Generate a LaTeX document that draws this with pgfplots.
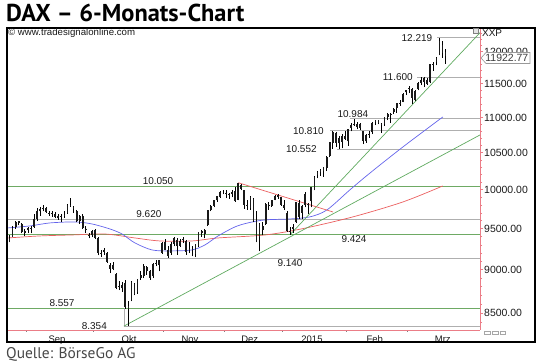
\documentclass[border=0pt]{standalone}
\usepackage{pgfplots}
\usepackage{pgfplotstable}
\pgfplotsset{compat=1.18}
\usepackage{fontspec}
\setmainfont{Liberation Sans}
\newfontfamily\titlefont{PT Sans}
\definecolor{lvlgreen}{RGB}{110,170,100}
\definecolor{lvlgrey}{RGB}{175,175,175}
\definecolor{trendgreen}{RGB}{95,170,95}
\definecolor{mablue}{RGB}{100,100,235}
\definecolor{mared}{RGB}{235,95,95}
\definecolor{axpink}{RGB}{235,125,135}
\definecolor{txt}{RGB}{25,25,25}
\tikzset{
  wick/.style={black, line width=0.55bp},
  body/.style={black!90, line width=1.8bp},
  lvl/.style={font=\fontsize{10}{11}\selectfont, text=txt, inner sep=1pt},
}

\pgfplotstableread{
i o h l c
0 9380 9420 9330 9339
1 9400 9530 9390 9510
2 9520 9600 9500 9588
3 9590 9600 9540 9569
4 9560 9570 9440 9462
5 9450 9500 9410 9470
6 9480 9520 9450 9507
7 9510 9530 9440 9507
8 9520 9680 9510 9626
9 9620 9760 9600 9724
10 9720 9780 9660 9747
11 9760 9800 9720 9758
12 9760 9780 9700 9710
13 9690 9720 9660 9700
14 9700 9720 9650 9691
15 9690 9710 9630 9651
16 9640 9680 9610 9659
17 9650 9680 9580 9661
18 9670 9720 9640 9661
19 9700 9810 9690 9798
20 9800 9891 9780 9799
21 9780 9790 9700 9750
22 9720 9730 9580 9595
23 9590 9670 9560 9661
24 9660 9680 9500 9510
25 9500 9530 9450 9490
26 9420 9450 9380 9423
27 9420 9480 9390 9474
28 9480 9490 9370 9382
29 9380 9390 9170 9195
30 9190 9240 9150 9195
31 9230 9260 9180 9209
32 9200 9210 9080 9086
33 9060 9080 8960 9005
34 9060 9090 8990 9005
35 8950 8960 8770 8788
36 8800 8870 8760 8812
37 8780 8850 8740 8825
38 8840 8880 8550 8571
39 8540 8640 8355 8582
40 8650 8870 8630 8850
41 8830 8840 8700 8717
42 8740 8890 8720 8886
43 8900 8980 8880 8940
44 8930 9070 8900 9047
45 9030 9040 8940 8988
46 8980 9000 8880 8902
47 8920 9080 8900 9068
48 9080 9110 9040 9083
49 9060 9120 8980 9114
50 9200 9340 9190 9326
51 9330 9370 9230 9235
52 9230 9280 9140 9166
53 9200 9340 9180 9315
54 9310 9400 9280 9378
55 9360 9380 9180 9291
56 9290 9370 9270 9351
57 9360 9400 9320 9369
58 9350 9360 9180 9210
59 9240 9330 9200 9249
60 9250 9290 9160 9252
61 9190 9310 9150 9306
62 9290 9460 9270 9456
63 9450 9480 9400 9472
64 9430 9500 9380 9484
65 9540 9740 9530 9732
66 9740 9800 9720 9785
67 9790 9870 9770 9861
68 9860 9920 9840 9915
69 9910 9980 9890 9974
70 9980 10000 9940 9980
71 9960 9990 9890 9963
72 9940 9960 9880 9934
73 9950 10000 9900 9971
74 9980 10030 9840 9851
75 9870 10093 9860 10087
76 10060 10080 9990 10014
77 9990 10000 9750 9799
78 9800 9870 9740 9799
79 9760 9920 9740 9903
80 9880 9890 9580 9594
81 9600 9720 9330 9335
82 9390 9570 9219 9563
83 9530 9580 9420 9487
84 9560 9830 9550 9811
85 9800 9840 9740 9786
86 9790 9870 9780 9865
87 9870 9930 9860 9922
88 9910 9940 9880 9927
89 9900 9910 9790 9805
90 9800 9870 9740 9764
91 9700 9720 9460 9473
92 9460 9520 9424 9469
93 9490 9560 9450 9518
94 9580 9840 9570 9837
95 9830 9860 9620 9648
96 9700 9800 9620 9782
97 9800 9970 9770 9941
98 9800 9830 9690 9818
99 9850 10040 9770 10032
100 10000 10180 9990 10168
101 10190 10250 10150 10242
102 10230 10280 10180 10257
103 10250 10310 10170 10299
104 10290 10450 10250 10436
105 10460 10650 10440 10649
106 10640 10810 10550 10798
107 10780 10790 10580 10629
108 10630 10740 10552 10710
109 10650 10760 10560 10738
110 10740 10800 10680 10694
111 10660 10840 10600 10828
112 10850 10920 10800 10891
113 10890 10984 10880 10911
114 10860 10940 10830 10905
115 10900 10920 10820 10846
116 10800 10810 10620 10663
117 10660 10760 10640 10752
118 10760 10810 10710 10753
119 10790 10930 10760 10919
120 10930 10970 10890 10964
121 10960 10970 10900 10924
122 10900 10920 10780 10895
123 10900 11010 10880 11001
124 11000 11060 10960 11050
125 11040 11070 10920 11051
126 11080 11140 11050 11130
127 11140 11210 11070 11206
128 11210 11250 11170 11211
129 11230 11360 11220 11352
130 11370 11410 11330 11402
131 11420 11460 11360 11436
132 11420 11440 11190 11280
133 11260 11400 11240 11390
134 11420 11520 11400 11504
135 11510 11600 11480 11550
136 11530 11600 11450 11583
137 11560 11590 11480 11500
138 11520 11810 11510 11805
139 11810 11830 11700 11799
140 11830 11920 11780 11901
141 11950 12219 11940 12167
142 12100 12170 11900 11980
143 11990 12040 11810 11923
}\dax

\begin{document}
\begin{tikzpicture}
\useasboundingbox (0bp,0bp) rectangle (540bp,-364bp);
\node[anchor=west, inner sep=0, font=\titlefont\bfseries\fontsize{24.5}{26}\selectfont] at (6bp,-13bp) {DAX – 6-Monats-Chart};
\node[anchor=west, inner sep=0, font=\titlefont\fontsize{15.5}{17}\selectfont, text=txt!80] at (6bp,-354bp) {Quelle: BörseGo AG};
\begin{axis}[
  at={(8bp,-330bp)}, anchor=south west, scale only axis,
  width=472bp, height=301bp,
  xmin=-0.5, xmax=154.3,
  ymode=log, ymin=8312.5, ymax=12362,
  axis x line*=bottom, axis y line*=right,
  axis line style={axpink, line width=0.7bp},
  tick align=outside,
  xtick={15.6,39.2,59.2,78.8,99.2,119.8,142.1},
  xticklabels={Sep,Okt,Nov,Dez,2015,Feb,Mrz},
  minor xtick={5.5,27.5,50.5,70.5,89.5,110.5,130.5},
  major x tick style={draw=none},
  minor x tick style={gray, line width=0.5bp},
  minor tick length=2bp,
  major tick length=3bp,
  xticklabel style={font=\fontsize{9.5}{10}\selectfont, text=txt, inner sep=0pt, yshift=-2.5bp},
  ytick={8500,9000,9500,10000,10500,11000,11500,12000},
  yticklabels={8500.00,9000.00,9500.00,10000.00,10500.00,11000.00,11500.00,12000.00},
  minor ytick={8400,8600,8700,8800,8900,9100,9200,9300,9400,9600,9700,9800,9900,10100,10200,10300,10400,10600,10700,10800,10900,11100,11200,11300,11400,11600,11700,11800,11900,12100,12200,12300},
  major y tick style={axpink, line width=0.5bp},
  minor y tick style={axpink, line width=0.4bp},
  yticklabel style={font=\fontsize{10.5}{11}\selectfont, text=txt, anchor=west, inner sep=0pt, xshift=1bp},
  clip=true,
]
% level lines
\addplot[lvlgreen, line width=0.7bp] coordinates {(-0.5,10050) (154.3,10050)};
\addplot[lvlgreen, line width=0.7bp] coordinates {(-0.5,9424) (154.3,9424)};
\addplot[lvlgreen, line width=0.7bp] coordinates {(-0.5,8557) (154.3,8557)};
\addplot[lvlgrey, line width=0.7bp] coordinates {(-0.5,9620) (154.3,9620)};
\addplot[lvlgrey, line width=0.7bp] coordinates {(-0.5,9140) (154.3,9140)};
\addplot[lvlgrey, line width=0.7bp] coordinates {(140.2,12219) (154.3,12219)};
\addplot[lvlgrey, line width=0.7bp] coordinates {(133.6,11600) (154.3,11600)};
\addplot[lvlgrey, line width=0.7bp] coordinates {(111.6,10984) (154.3,10984)};
\addplot[lvlgrey, line width=0.7bp] coordinates {(105.1,10810) (154.3,10810)};
\addplot[lvlgrey, line width=0.7bp] coordinates {(107.4,10552) (154.3,10552)};
\addplot[lvlgrey, line width=0.7bp] coordinates {(37.5,8354) (154.3,8354)};
\addplot[lvlgrey, line width=0.7bp] coordinates {(37.5,8354) (37.5,8560)};
% moving averages
\addplot[mared, line width=0.7bp, smooth] coordinates {(-0.5,9384) (10,9409) (20.5,9421) (31.3,9433) (41.1,9384) (49.3,9347) (59.8,9347) (68.4,9384) (83.8,9421) (96.2,9500) (112.6,9648) (129,9840) (142.1,10050)};
\addplot[mablue, line width=0.7bp, smooth] coordinates {(-0.5,9509) (6.7,9534) (13.3,9572) (21.5,9584) (27,9559) (32.9,9496) (36.9,9433) (41.1,9323) (46.7,9237) (52.6,9225) (59.8,9237) (64.1,9298) (68.4,9409) (73.9,9521) (78.2,9572) (83.8,9610) (92,9622) (98.5,9648) (104.1,9737) (111.6,9997) (118.2,10222) (129,10580) (142.1,11007)};
% trend lines
\addplot[trendgreen, line width=0.7bp] coordinates {(37.5,8354) (154.3,10749)};
\addplot[trendgreen, line width=0.7bp] coordinates {(92,9424) (154.3,12300)};
\addplot[mared, line width=0.7bp] coordinates {(75,10093) (106.1,9711)};
% candles
\pgfplotsforeachungrouped \r in {0,...,143}{%
  \pgfplotstablegetelem{\r}{i}\of\dax \let\vi\pgfplotsretval
  \pgfplotstablegetelem{\r}{o}\of\dax \let\vo\pgfplotsretval
  \pgfplotstablegetelem{\r}{h}\of\dax \let\vh\pgfplotsretval
  \pgfplotstablegetelem{\r}{l}\of\dax \let\vl\pgfplotsretval
  \pgfplotstablegetelem{\r}{c}\of\dax \let\vc\pgfplotsretval
  \edef\doplot{\noexpand\addplot[wick] coordinates {(\vi,\vl) (\vi,\vh)};
    \noexpand\addplot[body] coordinates {(\vi,\vo) (\vi,\vc)};}%
  \doplot
}
% level labels
\node[lvl, anchor=east] at (axis cs:139,12219) {12.219};
\node[lvl, anchor=east] at (axis cs:132.6,11600) {11.600};
\node[lvl, anchor=south] at (axis cs:112.6,10984) {10.984};
\node[lvl, anchor=east] at (axis cs:103.4,10810) {10.810};
\node[lvl, anchor=east] at (axis cs:101.1,10552) {10.552};
\node[lvl, anchor=south] at (axis cs:48.7,10050) {10.050};
\node[lvl, anchor=south] at (axis cs:45.7,9620) {9.620};
\node[lvl, anchor=north] at (axis cs:113,9424) {9.424};
\node[lvl, anchor=north] at (axis cs:92,9140) {9.140};
\node[lvl, anchor=south] at (axis cs:17.2,8557) {8.557};
\node[lvl, anchor=east] at (axis cs:32.3,8354) {8.354};
\end{axis}
% frame and chart furniture
\draw[line width=1.3bp] (7bp,-28bp) rectangle (535bp,-342bp);
\node[anchor=west, inner sep=0, font=\fontsize{9.7}{10}\selectfont, text=txt] at (8bp,-33bp) {\textcopyright\ www.tradesignalonline.com};
\node[anchor=west, inner sep=0, font=\fontsize{10}{11}\selectfont, text=txt] at (482bp,-33bp) {XXP};
\draw[gray, line width=0.4bp, fill=gray!20] (473.5bp,-28.5bp) rectangle (478.5bp,-33.5bp);
\draw[gray!80, line width=0.6bp, fill=white] (481bp,-58bp) -- (486bp,-52.5bp) -- (530bp,-52.5bp) -- (530bp,-63.5bp) -- (486bp,-63.5bp) -- cycle;
\node[anchor=east, inner sep=0, font=\fontsize{10.5}{11}\selectfont, text=txt!85] at (528.5bp,-58bp) {11922.77};
\draw[gray!70, line width=0.4bp] (484bp,-331.5bp) rectangle (490bp,-334bp) (492bp,-331.5bp) rectangle (498bp,-334bp) (500bp,-331.5bp) rectangle (505bp,-334bp);
\end{tikzpicture}
\end{document}
